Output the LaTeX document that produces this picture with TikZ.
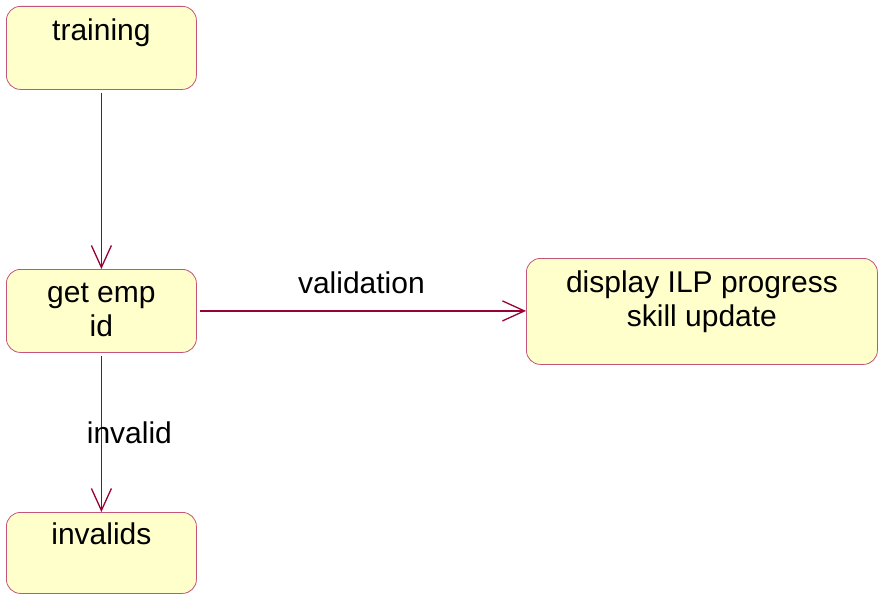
\documentclass[tikz,border=0pt]{standalone}
\usepackage{fontspec}
\setmainfont{Liberation Sans}
\usepackage{xcolor}
\usetikzlibrary{arrows.meta}

\definecolor{statefill}{RGB}{255,255,204}
\definecolor{stateline}{RGB}{196,84,120}
\definecolor{flowline}{RGB}{153,0,51}

\begin{document}
\begin{tikzpicture}[
  state/.style={draw=stateline, fill=statefill, rounded corners=14pt, line width=0.8pt,
    inner sep=0pt, anchor=north west, align=center, font=\fontsize{30}{34}\selectfont},
  flow/.style={draw=flowline, line width=1.3pt, shorten <=3pt,
    -{Straight Barb[length=22pt,width=20pt]}},
  lab/.style={font=\fontsize{30}{34}\selectfont, inner sep=2pt}
]
\useasboundingbox (0,0) rectangle (30.858,20.842);
\node[state, minimum width=190pt, text height=34pt, text depth=49pt] (training) at (0.211,20.631) {training};
\node[state, minimum width=190pt, text height=67pt, text depth=16pt] (getemp) at (0.211,11.387) {get emp\\id};
\node[state, minimum width=351pt, text height=68pt, text depth=38pt] (display) at (18.487,11.774) {display ILP progress\\skill update};
\node[state, minimum width=190pt, text height=32pt, text depth=49pt] (invalids) at (0.211,2.847) {invalids};

\draw[flow] (training) -- (getemp);
\draw[flow] (getemp.east) -- node[lab, above=14pt] {validation} (getemp.east -| display.west);
\draw[flow] (getemp) -- node[lab, xshift=28pt] {invalid} (invalids);
\end{tikzpicture}
\end{document}
